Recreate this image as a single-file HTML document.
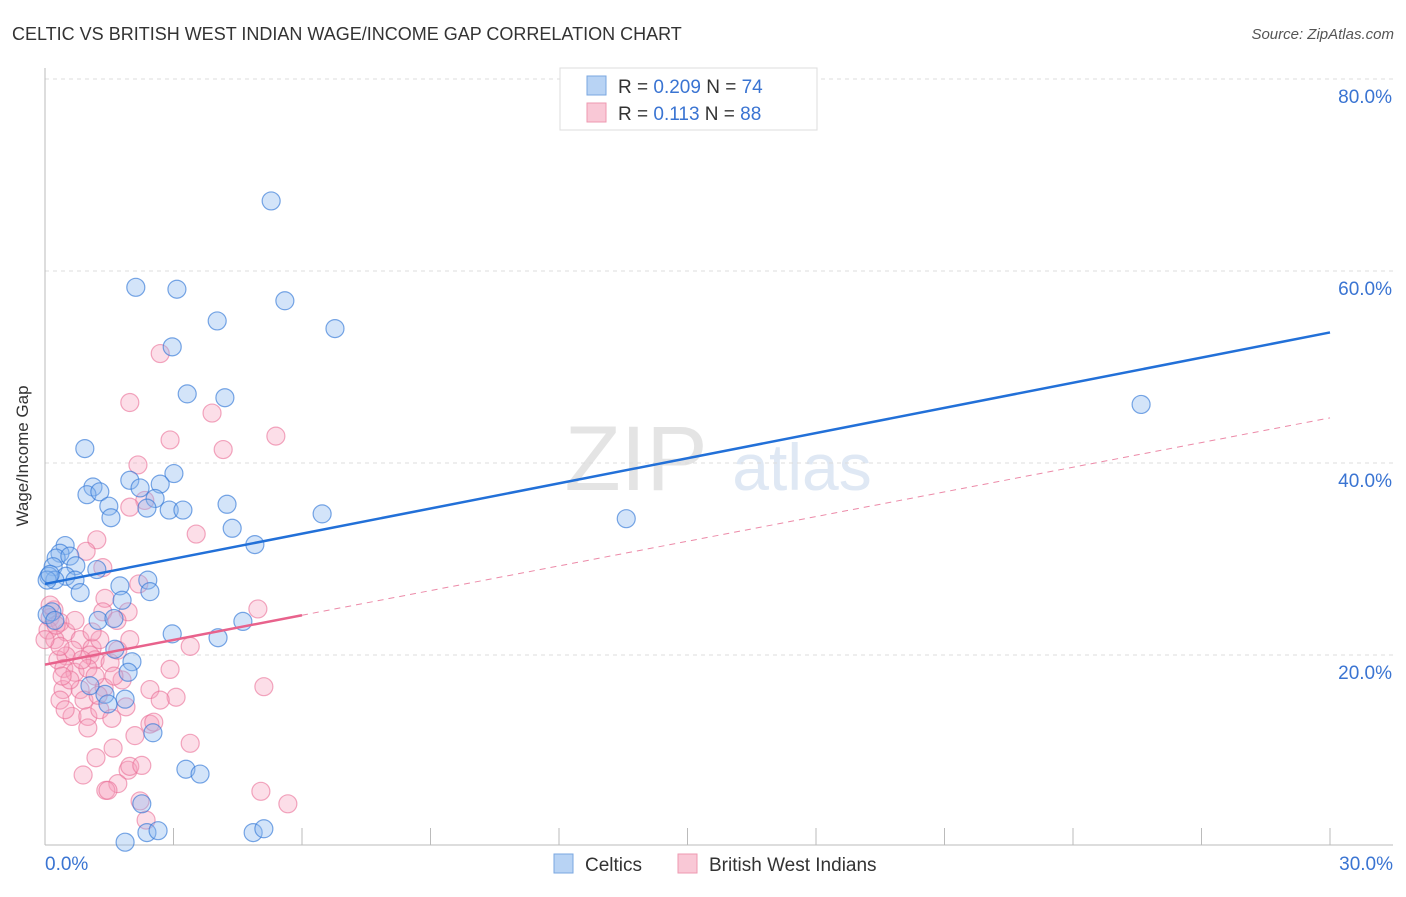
<!DOCTYPE html>
<html><head><meta charset="utf-8"><style>
body{margin:0;background:#fff;font-family:"Liberation Sans",sans-serif}
svg text{font-family:"Liberation Sans",sans-serif}
</style></head><body>
<svg id="c" width="1406" height="892">
<text x="12" y="40" font-size="18" fill="#333">CELTIC VS BRITISH WEST INDIAN WAGE/INCOME GAP CORRELATION CHART</text>
<text x="1394" y="39" font-size="15" fill="#555" font-style="italic" text-anchor="end">Source: ZipAtlas.com</text>
<text x="636" y="490" font-size="92" fill="#e4e4e4" font-family="Liberation Serif" text-anchor="middle">ZIP</text>
<text x="802" y="490" font-size="66" fill="#dfe8f4" text-anchor="middle">atlas</text>
<g id="grid"></g><g id="axes"></g><g id="pts"></g><g id="lines"></g>
<text x="28" y="456" font-size="17" fill="#333" text-anchor="middle" transform="rotate(-90 28 456)">Wage/Income Gap</text>
<g>
<rect x="560" y="68" width="257" height="62" fill="#fff" stroke="#ddd"/>
<rect x="587" y="76" width="19" height="19" fill="#b8d3f4" stroke="#7aa7e0"/>
<text x="618" y="93" font-size="19" fill="#333">R = <tspan fill="#3a74d2">0.209</tspan>   N = <tspan fill="#3a74d2">74</tspan></text>
<rect x="587" y="103" width="19" height="19" fill="#f9c8d6" stroke="#ee99b0"/>
<text x="618" y="120" font-size="19" fill="#333">R =  <tspan fill="#3a74d2"> 0.113</tspan>   N = <tspan fill="#3a74d2">88</tspan></text>
</g>
<g>
<rect x="554" y="854" width="19" height="19" fill="#b8d3f4" stroke="#7aa7e0"/>
<text x="585" y="871" font-size="19" fill="#333">Celtics</text>
<rect x="678" y="854" width="19" height="19" fill="#f9c8d6" stroke="#ee99b0"/>
<text x="709" y="871" font-size="19" fill="#333">British West Indians</text>
</g>
</svg>
<script>
const yTicks=[20,40,60,80];
const yTickLabels=["20.0%","40.0%","60.0%","80.0%"];
const xTicks=[0,3,6,9,12,15,18,21,24,27,30];
const blueX=[5.28,2.12,3.08,5.60,4.02,6.77,2.97,3.32,4.20,0.93,25.59,13.57,3.01,1.98,2.69,2.22,1.12,0.98,1.28,1.49,1.54,4.25,2.57,2.38,2.90,3.22,6.47,4.37,4.90,0.47,0.35,0.26,0.58,0.19,0.72,0.49,0.09,0.23,0.70,1.21,0.82,1.75,2.40,2.45,1.80,1.24,1.61,2.97,4.04,4.62,1.63,2.03,1.94,1.05,1.40,1.87,1.47,2.52,3.29,3.62,2.26,2.38,2.64,4.86,5.11,1.87,0.05,0.12,0.16,0.05,0.23];
const blueY=[67.3,58.3,58.1,56.9,54.8,54.0,52.1,47.2,46.8,41.5,46.1,34.2,38.9,38.2,37.8,37.4,37.5,36.7,37.0,35.5,34.3,35.7,36.3,35.3,35.1,35.1,34.7,33.2,31.5,31.4,30.6,30.1,30.3,29.2,29.3,28.2,28.2,27.8,27.8,28.9,26.5,27.2,27.8,26.6,25.7,23.6,23.8,22.2,21.8,23.5,20.6,19.3,18.2,16.8,15.9,15.4,14.9,11.9,8.1,7.6,4.5,1.5,1.7,1.5,1.9,0.5,27.8,28.4,24.5,24.2,23.6];
const pinkX=[2.69,1.98,3.90,2.92,4.16,5.39,2.17,2.33,1.98,3.53,1.21,0.96,1.35,2.19,1.40,1.35,1.94,1.68,4.97,0.21,0.12,0.35,0.07,0.49,0.23,0.82,1.10,0.65,1.05,0.49,1.17,0.30,1.52,1.70,1.80,0.44,0.70,1.00,0.82,0.42,1.38,2.92,3.39,3.06,0.35,0.63,1.00,1.28,1.89,1.56,1.00,2.45,2.54,2.10,3.39,1.59,1.19,0.89,1.94,1.98,2.26,1.70,1.42,1.47,2.22,2.36,5.11,5.04,5.67,0.12,0.26,0.58,0.35,0.70,0.0,1.28,0.86,2.45,2.69,0.40,0.91,1.61,1.10,1.24,0.47,1.17,1.98];
const pinkY=[51.4,46.3,45.2,42.4,41.4,42.8,39.8,36.1,35.4,32.6,32.0,30.8,29.1,27.4,25.9,24.5,24.5,23.6,24.8,24.7,23.9,23.4,22.6,22.4,21.6,21.6,20.7,20.5,20.0,19.9,19.5,19.5,19.2,20.5,17.4,18.6,18.2,18.6,16.4,16.4,16.6,18.5,20.9,15.6,15.3,13.6,13.6,14.3,14.6,13.4,12.4,12.8,13.0,11.6,10.8,10.3,9.3,7.5,8.0,8.4,8.5,6.6,5.9,5.9,4.8,2.8,16.7,5.8,4.5,25.2,23.1,17.4,20.9,23.6,21.6,21.6,19.5,16.4,15.3,17.8,15.3,17.8,22.4,15.8,14.3,17.8,21.6];
const blueTrend=[27.4,53.6];
const pinkTrend=[19.0,44.7];
const pinkSolidEnd=6;

const X0=45,X1=1330,Y0=847,Y80=79;
const sx=v=>X0+(v/30)*(X1-X0);
const sy=v=>Y0-(v/80)*(Y0-Y80);
const NS="http://www.w3.org/2000/svg";
function mk(tag,attrs,parent){const e=document.createElementNS(NS,tag);for(const k in attrs)e.setAttribute(k,attrs[k]);document.getElementById(parent).appendChild(e);return e;}
yTicks.forEach((t,i)=>{
 const l=mk('line',{x1:X0,x2:1393,y1:sy(t),y2:sy(t),stroke:'#ddd','stroke-dasharray':'4,4'},'grid');
 
 
 const tx=mk('text',{x:1392,y:sy(t)+24,'font-size':19,fill:'#3a74d2','text-anchor':'end'},'grid');
 tx.textContent=yTickLabels[i];
 
 
});
const ax=mk('line',{x1:X0,x2:X0,y1:68,y2:845,stroke:'#bbb'},'axes');


const bx=mk('line',{x1:X0,x2:1393,y1:845,y2:845,stroke:'#bbb'},'axes');


xTicks.forEach(t=>{
 const l=mk('line',{x1:sx(t),x2:sx(t),y1:828,y2:845,stroke:'#bbb'},'axes');
 
 
});
const xl0=mk('text',{x:45,y:870,'font-size':19,fill:'#3a74d2'},'axes');xl0.textContent='0.0%';


const xl1=mk('text',{x:1393,y:870,'font-size':19,fill:'#3a74d2','text-anchor':'end'},'axes');xl1.textContent='30.0%';


pinkX.forEach((v,i)=>{
 const c=mk('circle',{cx:sx(v),cy:sy(pinkY[i]),r:9,fill:'rgba(246,160,188,0.35)',stroke:'rgba(234,110,150,0.6)','stroke-width':1.2},'pts');
 
 
});
blueX.forEach((v,i)=>{
 const c=mk('circle',{cx:sx(v),cy:sy(blueY[i]),r:9,fill:'rgba(140,185,240,0.38)',stroke:'rgba(50,120,215,0.65)','stroke-width':1.2},'pts');
 
 
});
const bl=mk('line',{x1:sx(0),y1:sy(blueTrend[0]),x2:sx(30),y2:sy(blueTrend[1]),stroke:'#2270d8','stroke-width':2.5},'lines');


const pmid=pinkTrend[0]+(pinkTrend[1]-pinkTrend[0])*pinkSolidEnd/30;
const pl=mk('line',{x1:sx(0),y1:sy(pinkTrend[0]),x2:sx(pinkSolidEnd),y2:sy(pmid),stroke:'#e8628c','stroke-width':2.5},'lines');


const pd=mk('line',{x1:sx(pinkSolidEnd),y1:sy(pmid),x2:sx(30),y2:sy(pinkTrend[1]),stroke:'#ec8aa8','stroke-width':1,'stroke-dasharray':'6,5'},'lines');


</script>
</body></html>
